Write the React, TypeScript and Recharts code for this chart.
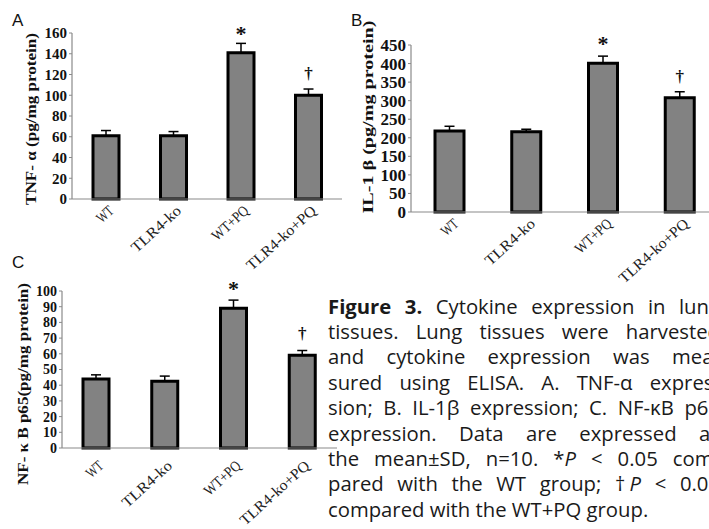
import React from "react";
import { BarChart, Bar, XAxis, YAxis, ErrorBar, LabelList } from "recharts";

const groups = ["WT", "TLR4-ko", "WT+PQ", "TLR4-ko+PQ"];
const marks = ["", "", "*", "†"];

const tnfMean = [61, 61, 141, 100];
const tnfSd = [5, 4, 9, 6];
const tnfTicks = [0, 20, 40, 60, 80, 100, 120, 140, 160];

const il1Mean = [218, 216, 401, 308];
const il1Sd = [13, 7, 19, 16];
const il1Ticks = [0, 50, 100, 150, 200, 250, 300, 350, 400, 450];

const nfMean = [44, 42.5, 89, 59];
const nfSd = [2.6, 3.3, 5.2, 3.1];
const nfTicks = [0, 10, 20, 30, 40, 50, 60, 70, 80, 90, 100];

const captionLines = [
  "tissues. Lung tissues were harvested",
  "and cytokine expression was mea-",
  "sured using ELISA. A. TNF-α expres-",
  "sion; B. IL-1β expression; C. NF-κB p65",
  "expression. Data are expressed as",
];

const rows = (mean: number[], sd: number[]) =>
  groups.map((name, i) => ({ name, value: mean[i], err: [0, sd[i]], mark: marks[i] }));

const axisGray = "#8a8a8a";
const barGray = "#828282";
const serifFont = "'Liberation Serif', 'DejaVu Serif', serif";

// the source figure uses a half-width CJK serif, so every glyph gets the same advance
function XTick({ x, y, payload, dx, dy }: any) {
  const tx = x + dx;
  const ty = y + dy;
  const label = String(payload.value);
  return (
    <text
      x={tx}
      y={ty}
      textAnchor="end"
      transform={`rotate(-42 ${tx} ${ty})`}
      fontFamily={serifFont}
      fontSize={15}
      fill="#222"
      textLength={label.length * 8.8}
      lengthAdjust="spacingAndGlyphs"
    >
      {label}
    </text>
  );
}

function MarkLabel({ x, y, width, value }: any) {
  if (!value) return null;
  const cx = x + width / 2;
  if (value === "*") {
    return (
      <text x={cx} y={y - 12} textAnchor="middle" fontFamily={serifFont} fontWeight={700} fontSize={22} fill="#111">
        *
      </text>
    );
  }
  return (
    <text x={cx} y={y - 16} textAnchor="middle" fontFamily={serifFont} fontWeight={700} fontSize={17} fill="#111">
      {value}
    </text>
  );
}

interface PanelProps {
  data: any[];
  ticks: number[];
  width: number;
  height: number;
  top: number;
  yWidth: number;
  xHeight: number;
  barSize: number;
  tickFont: number;
  labelDx: number;
  labelDy: number;
}

function Panel({ data, ticks, width, height, top, yWidth, xHeight, barSize, tickFont, labelDx, labelDy }: PanelProps) {
  return (
    <BarChart width={width} height={height} data={data} margin={{ top, right: 0, bottom: 0, left: 0 }}>
      <XAxis
        dataKey="name"
        height={xHeight}
        interval={0}
        tickSize={0}
        tickMargin={0}
        tickLine={false}
        axisLine={{ stroke: axisGray, strokeWidth: 1.2 }}
        tick={<XTick dx={labelDx} dy={labelDy} />}
      />
      <YAxis
        width={yWidth}
        domain={[0, ticks[ticks.length - 1]]}
        ticks={ticks}
        interval={0}
        tickSize={3}
        tickMargin={2}
        axisLine={{ stroke: axisGray, strokeWidth: 1.2 }}
        tickLine={{ stroke: axisGray }}
        tick={{ fontFamily: serifFont, fontWeight: 700, fontSize: tickFont, fill: "#111" }}
      />
      <Bar dataKey="value" fill={barGray} stroke="#000" strokeWidth={3} barSize={barSize} isAnimationActive={false}>
        <ErrorBar dataKey="err" direction="y" width={5} stroke="#000" strokeWidth={1.5} />
        <LabelList dataKey="mark" content={<MarkLabel />} />
      </Bar>
    </BarChart>
  );
}

function YTitle({ x, y, len, children }: { x: number; y: number; len: number; children: string }) {
  return (
    <text
      x={x}
      y={y}
      transform={`rotate(-90 ${x} ${y})`}
      textAnchor="middle"
      fontFamily={serifFont}
      fontWeight={700}
      fontSize={14}
      fill="#111"
      textLength={len}
      lengthAdjust="spacingAndGlyphs"
    >
      {children}
    </text>
  );
}

const justified: React.CSSProperties = { textAlign: "justify", textAlignLast: "justify" };

export default function App() {
  return (
    <div style={{ position: "relative", width: 709, height: 529, overflow: "hidden", background: "#fff" }}>
      <style>{`body{margin:0}`}</style>

      <div style={{ position: "absolute", left: 0, top: 0 }}>
        <Panel
          data={rows(tnfMean, tnfSd)}
          ticks={tnfTicks}
          width={342}
          height={290}
          top={33}
          yWidth={72}
          xHeight={91}
          barSize={26}
          tickFont={15}
          labelDx={9}
          labelDy={13}
        />
      </div>

      <div style={{ position: "absolute", left: 360, top: 0 }}>
        <Panel
          data={rows(il1Mean, il1Sd)}
          ticks={il1Ticks}
          width={358}
          height={290}
          top={45}
          yWidth={51}
          xHeight={78}
          barSize={29}
          tickFont={17}
          labelDx={10}
          labelDy={13}
        />
      </div>

      <div style={{ position: "absolute", left: 0, top: 250 }}>
        <Panel
          data={rows(nfMean, nfSd)}
          ticks={nfTicks}
          width={337}
          height={279}
          top={41}
          yWidth={62}
          xHeight={81}
          barSize={26}
          tickFont={14}
          labelDx={8}
          labelDy={19}
        />
      </div>

      <svg width={709} height={529} style={{ position: "absolute", left: 0, top: 0, pointerEvents: "none" }}>
        <g fontFamily="'Liberation Sans', Arial, sans-serif" fontSize={17} fill="#111">
          <text x={12} y={26}>A</text>
          <text x={351} y={26}>B</text>
          <text x={12} y={268}>C</text>
        </g>
        <YTitle x={36} y={119} len={172}>TNF- α (pg/mg protein)</YTitle>
        <YTitle x={373} y={117} len={193}>IL-1 β (pg/mg protein)</YTitle>
        <YTitle x={28} y={384} len={202}>NF- κ B p65(pg/mg protein)</YTitle>
      </svg>

      <div
        style={{
          position: "absolute",
          left: 328,
          top: 293.5,
          width: 392,
          fontFamily: "'Open Sans', 'Noto Sans', sans-serif",
          fontSize: 20.3,
          lineHeight: "25.4px",
          color: "#1a1a1a",
          whiteSpace: "nowrap",
        }}
      >
        <div style={justified}>
          <b>Figure 3.</b> Cytokine expression in lung
        </div>
        {captionLines.map((line, i) => (
          <div key={i} style={justified}>
            {line}
          </div>
        ))}
        <div style={justified}>
          the mean±SD, n=10. *<i>P</i> &lt; 0.05 com-
        </div>
        <div style={justified}>
          pared with the WT group; <span style={{ letterSpacing: -4 }}>†</span>
          <i>P</i> &lt; 0.05
        </div>
        <div>compared with the WT+PQ group.</div>
      </div>
    </div>
  );
}
